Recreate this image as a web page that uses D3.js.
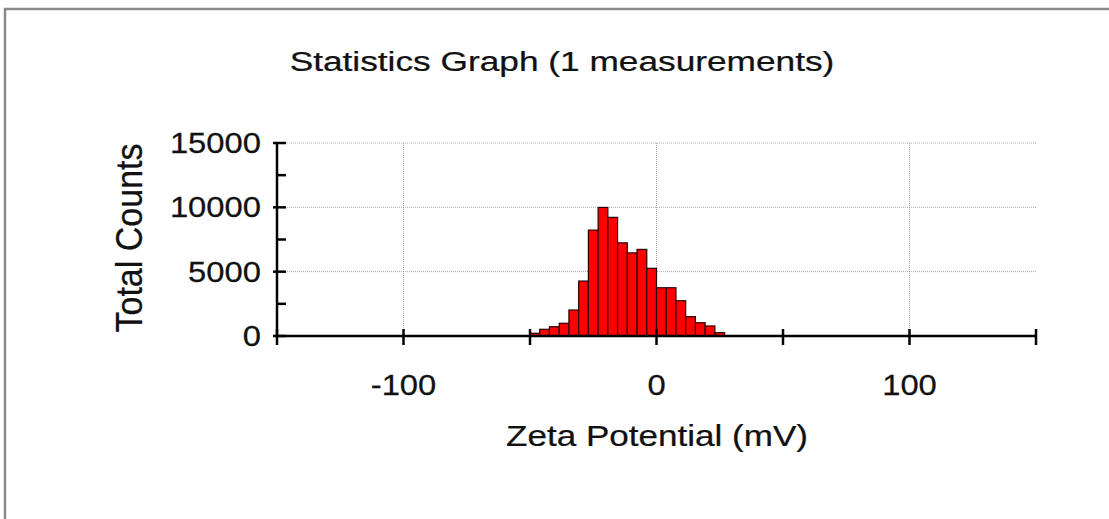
<!DOCTYPE html>
<html><head><meta charset="utf-8">
<script src="https://cdn.jsdelivr.net/npm/d3@7/dist/d3.min.js"></script>
<style>html,body{margin:0;padding:0;background:#fff;}svg{display:block;}</style>
</head><body>
<svg id="chart" width="1109" height="519"></svg>
<script>
// Data
const binStart = -50;
const binWidth = 50 / 13;
const counts = [210, 520, 720, 990, 2020, 4270, 8230, 9990, 9220, 7240, 6460, 6730, 5260, 3750, 3750, 2740, 1500, 1030, 780, 260];
const xTicks = [-150, -100, -50, 0, 50, 100, 150];
const xTickLabels = ["-100", "0", "100"];
const xLabelValues = [-100, 0, 100];
const yTicks = [0, 5000, 10000, 15000];
const yTickLabels = ["0", "5000", "10000", "15000"];
const yMinorTicks = [2500, 7500, 12500];
const xGrid = [-100, 0, 100];
const yGrid = [5000, 10000, 15000];
const titleText = "Statistics Graph (1 measurements)";
const xTitle = "Zeta Potential (mV)";
const yTitle = "Total Counts";

const svg = d3.select("#chart");
const FONT = "Liberation Sans, Arial, sans-serif";
const TICK_SX = 1.13;

// frame
svg.append("path").attr("d", "M5,519 V9 H1109").attr("fill", "none").attr("stroke", "#8a8a8a").attr("stroke-width", 2.5);

const x = d3.scaleLinear().domain([-150, 150]).range([277, 1036]);
const y = d3.scaleLinear().domain([0, 15000]).range([336, 143]);

// grid
svg.append("g").selectAll("line").data(xGrid).join("line")
  .attr("x1", d => x(d)).attr("x2", d => x(d)).attr("y1", y(15000)).attr("y2", y(0))
  .attr("stroke", "#a8a8a8").attr("stroke-width", 1).attr("stroke-dasharray", "1,1");
svg.append("g").selectAll("line").data(yGrid).join("line")
  .attr("x1", x(-150)).attr("x2", x(150)).attr("y1", d => y(d)).attr("y2", d => y(d))
  .attr("stroke", "#a8a8a8").attr("stroke-width", 1).attr("stroke-dasharray", "1,1");

// bars
svg.append("g").selectAll("rect").data(counts).join("rect")
  .attr("x", (d, i) => x(binStart + i * binWidth))
  .attr("width", (d, i) => x(binStart + (i + 1) * binWidth) - x(binStart + i * binWidth))
  .attr("y", d => y(d))
  .attr("height", d => y(0) - y(d))
  .attr("fill", "#ff0000").attr("stroke", "#2a0000").attr("stroke-width", 1.2);

// axes lines
const ax = svg.append("g").attr("stroke", "#000").attr("stroke-width", 2.5);
ax.append("line").attr("x1", x(-150)).attr("x2", x(150)).attr("y1", y(0)).attr("y2", y(0));
ax.append("line").attr("x1", x(-150)).attr("x2", x(-150)).attr("y1", y(15000)).attr("y2", y(0));
ax.selectAll(".xt").data(xTicks).join("line")
  .attr("x1", d => x(d)).attr("x2", d => x(d)).attr("y1", y(0) - 7).attr("y2", y(0) + 9);
ax.selectAll(".yt").data(yTicks).join("line")
  .attr("x1", x(-150) - 4).attr("x2", x(-150) + 9).attr("y1", d => y(d)).attr("y2", d => y(d));
ax.selectAll(".ym").data(yMinorTicks).join("line")
  .attr("x1", x(-150)).attr("x2", x(-150) + 9).attr("y1", d => y(d)).attr("y2", d => y(d));

function stretchedText(tx, ty, txt, size, anchor, sx) {
  const gg = svg.append("g").attr("transform", `translate(${tx},${ty}) scale(${sx},1)`);
  gg.append("text").attr("x", 0).attr("y", 0).attr("text-anchor", anchor)
    .attr("font-family", FONT).attr("font-size", size).attr("fill", "#111")
    .attr("stroke", "#111").attr("stroke-width", 0.25).text(txt);
  return gg;
}

// y tick labels
yTicks.forEach((v, i) => stretchedText(261, y(v) + 10, yTickLabels[i], 29, "end", TICK_SX));
// x tick labels
xLabelValues.forEach((v, i) => stretchedText(x(v), 395, xTickLabels[i], 29, "middle", TICK_SX));

// titles
stretchedText(562, 71, titleText, 28, "middle", 545 / (28 * 15.45));
stretchedText(657, 446, xTitle, 29, "middle", 302 / (29 * 8.614));

svg.append("g").attr("transform", "translate(142,238) scale(1.1,1) rotate(-90)")
  .append("text")
  .attr("text-anchor", "middle").attr("font-family", FONT).attr("font-size", 34)
  .attr("fill", "#111").attr("stroke", "#111").attr("stroke-width", 0.25).text(yTitle);
</script>
</body></html>
